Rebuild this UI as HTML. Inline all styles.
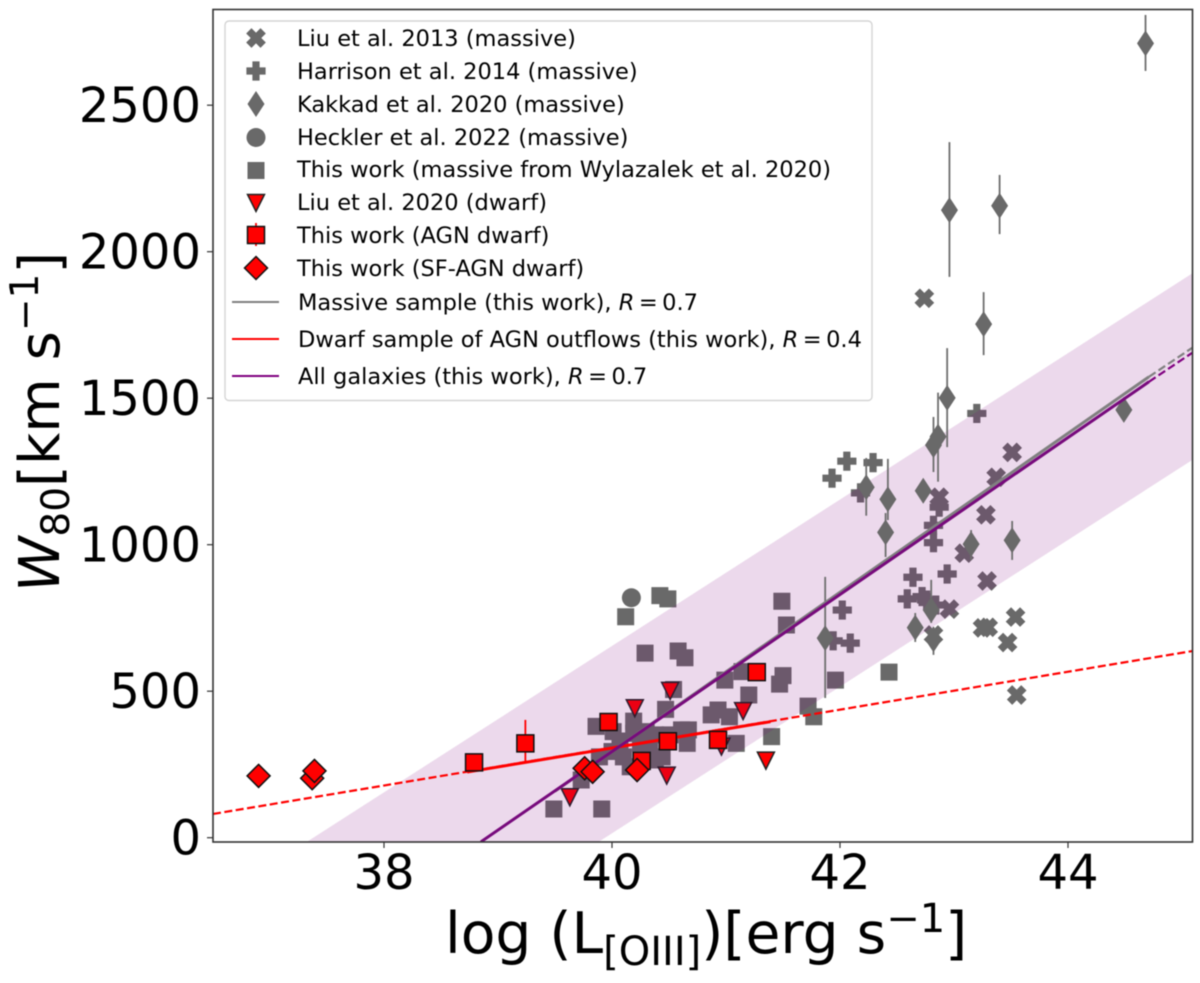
<!DOCTYPE html>
<html>
<head>
<meta charset="utf-8">
<title>W80 versus OIII luminosity</title>
<style>
html,body{margin:0;padding:0;background:#fff;}
#chart{display:block;width:1200px;height:983px;filter:blur(0.45px);font-family:"DejaVu Sans",sans-serif;}
.tick-label{font-size:48px;fill:#000;}
.legend-label{font-size:22.5px;fill:#000;}
.x-title{font-size:56.7px;fill:#000;}
.y-title{font-size:56px;fill:#000;}
</style>
</head>
<body>
<svg id="chart" xmlns="http://www.w3.org/2000/svg" width="1200" height="983" viewBox="0 0 1200 983">
  <defs><clipPath id="plot-clip"><rect x="213" y="9.5" width="979.5" height="832.5"/></clipPath></defs>
  <g id="marks-under" clip-path="url(#plot-clip)"></g>
  <g id="band-layer" clip-path="url(#plot-clip)"></g>
  <g id="kakkad-layer"></g>
  <g id="fit-layer" clip-path="url(#plot-clip)"></g>
  <g id="marks-over"></g>
  <rect x="213" y="9.5" width="979.5" height="832.5" fill="none" stroke="#333" stroke-width="1.6"/>
  <g id="axis-layer"></g>

  <text class="x-title" x="445" y="953">log (L<tspan font-size="40" dy="12">[OIII]</tspan><tspan dy="-12">)[erg s</tspan><tspan font-size="40" dy="-21">−1</tspan><tspan dy="21">]</tspan></text>
  <text class="y-title" transform="translate(59,592) rotate(-90)" x="0" y="0"><tspan font-style="italic">W</tspan><tspan font-size="39" dy="10">80</tspan><tspan dy="-10">[km s</tspan><tspan font-size="39" dy="-21">−1</tspan><tspan dy="21">]</tspan></text>

  <g id="legend">
    <rect x="225" y="21" width="647" height="379.5" rx="4" ry="4" fill="#fff" fill-opacity="0.85" stroke="#d4d4d4" stroke-width="1.4"/>
    <g id="legend-markers"></g>
    <line x1="232" x2="279" y1="302" y2="302" stroke="#808080" stroke-width="2"/>
    <line x1="232" x2="279" y1="339" y2="339" stroke="#ff0000" stroke-width="2"/>
    <line x1="232" x2="279" y1="376" y2="376" stroke="#800080" stroke-width="2"/>
    <text class="legend-label" x="297" y="46">Liu et al. 2013 (massive)</text>
    <text class="legend-label" x="297" y="79">Harrison et al. 2014 (massive)</text>
    <text class="legend-label" x="297" y="112">Kakkad et al. 2020 (massive)</text>
    <text class="legend-label" x="297" y="145">Heckler et al. 2022 (massive)</text>
    <text class="legend-label" x="297" y="177">This work (massive from Wylazalek et al. 2020)</text>
    <text class="legend-label" x="297" y="210">Liu et al. 2020 (dwarf)</text>
    <text class="legend-label" x="297" y="243">This work (AGN dwarf)</text>
    <text class="legend-label" x="297" y="276">This work (SF-AGN dwarf)</text>
    <text class="legend-label" x="298" y="310">Massive sample (this work), <tspan font-style="italic">R</tspan>&#8201;=&#8201;0.7</text>
    <text class="legend-label" x="298" y="347">Dwarf sample of AGN outflows (this work), <tspan font-style="italic">R</tspan>&#8201;=&#8201;0.4</text>
    <text class="legend-label" x="298" y="384">All galaxies (this work), <tspan font-style="italic">R</tspan>&#8201;=&#8201;0.7</text>
  </g>
</svg>
<script>
// Tick labels
const xTicks = [38, 40, 42, 44];
const yTicks = [0, 500, 1000, 1500, 2000, 2500];

// Liu et al. 2013 (massive)
const liu13X = [42.74,43.51,43.37,42.87,43.28,43.09,43.29,42.96,43.54,43.30,43.25,43.47,43.55,42.82];
const liu13Y = [1841,1315,1230,1162,1102,971,876,780,753,718,716,666,487,692];

// Harrison et al. 2014 (massive)
const harrisonX = [43.20,42.06,41.93,42.29,42.18,42.87,42.82,42.82,42.64,42.94,42.59,42.72,42.76,42.84,42.02,41.94,42.09];
const harrisonY = [1448,1285,1227,1280,1177,1128,1066,1007,889,900,815,823,811,794,777,672,664];

// Kakkad et al. 2020 (massive) with error ranges
const kakkadX = [44.68,42.96,43.40,43.26,42.94,44.49,42.86,42.82,42.23,42.42,42.40,42.73,43.15,43.51,41.87,42.66,42.80,42.82];
const kakkadY = [2711,2142,2157,1753,1501,1460,1369,1340,1196,1155,1042,1184,1002,1015,681,717,777,677];
const kakkadHi = [2808,2374,2262,1862,1671,1460,1519,1436,1296,1293,1108,1184,1050,1081,890,767,880,719];
const kakkadLo = [2617,1914,2060,1647,1333,1460,1215,1248,1099,1084,958,1184,948,948,477,668,733,624];

// Heckler et al. 2022 (massive)
const hecklerX = [40.17];
const hecklerY = [819];

// This work (massive from Wylazalek et al. 2020)
const wylazalekX = [40.12,40.42,40.49,40.29,40.58,40.64,41.49,41.53,41.50,41.47,41.96,41.14,40.99,41.20,40.47,40.54,40.19,39.86,40.01,40.19,40.30,40.87,40.93,41.03,40.61,40.67,40.51,40.66,41.09,41.40,41.72,41.77,40.44,40.38,40.16,40.10,40.00,39.89,40.25,40.33,39.73,39.49,39.91,42.43,40.07,40.38];
const wylazalekY = [754,826,815,630,637,614,807,726,553,524,538,567,538,487,438,506,398,380,362,356,362,419,436,413,368,368,351,322,322,345,449,413,276,265,242,276,294,276,322,311,197,98,98,565,330,351];

// Liu et al. 2020 (dwarf)
const liu20X = [40.51,40.20,41.15,41.35,40.48,39.63,40.96];
const liu20Y = [501,442,432,263,212,138,311];

// This work (AGN dwarf) with error ranges
const agnDwarfX = [38.79,39.24,39.97,41.27,40.49,40.93,40.26];
const agnDwarfY = [257,322,395,565,329,334,262];
const agnDwarfHi = [257,402,395,565,329,334,262];
const agnDwarfLo = [257,259,395,565,329,334,262];

// This work (SF-AGN dwarf)
const sfDwarfX = [36.90,37.37,37.39,39.76,39.83,40.22];
const sfDwarfY = [211,203,228,237,225,231];

// Fit lines: solid range and dashed extrapolation
const massiveFitX = [39.5,44.71];
const massiveFitY = [159,1573];
const massiveDashX = [44.71,45.09];
const massiveDashY = [1573,1672];
const dwarfFitX = [38.73,41.39];
const dwarfFitY = [224,396];
const dwarfDashX = [36.5,45.09];
const dwarfDashY = [81,637];
const allFitX = [38.85,44.71];
const allFitY = [-14,1556];
const allDashX = [44.71,45.09];
const allDashY = [1556,1655];

// Scatter band edges
const bandUpperX = [37.32,45.09];
const bandUpperY = [-15,1926];
const bandLowerX = [39.88,45.09];
const bandLowerY = [-15,1289];

const NS = 'http://www.w3.org/2000/svg';
const X0 = 384, XPER = 114, Y0 = 837.7, YPER = 0.293;
function sx(v) { return X0 + (v - 38) * XPER; }
function sy(v) { return Y0 - v * YPER; }

function make(tag, parent, name, attrs) {
  const el = document.createElementNS(NS, tag);
  for (const k in attrs) el.setAttribute(k, attrs[k]);
  
  
  parent.appendChild(el);
  return el;
}

// Marker outlines relative to the marker centre (unit shapes)
const SHAPES = {
  x: [[-1,-2],[0,-1],[1,-2],[2,-1],[1,0],[2,1],[1,2],[0,1],[-1,2],[-2,1],[-1,0],[-2,-1]].map(p => [p[0]*4.5, p[1]*4.5]),
  plus: [[-1,-3],[1,-3],[1,-1],[3,-1],[3,1],[1,1],[1,3],[-1,3],[-1,1],[-3,1],[-3,-1],[-1,-1]].map(p => [p[0]*3, p[1]*3]),
  thin: [[0,-13],[8.5,0],[0,13],[-8.5,0]],
  square: [[-8.5,-8.5],[8.5,-8.5],[8.5,8.5],[-8.5,8.5]],
  tri: [[-8.5,-8.5],[8.5,-8.5],[0,8.5]],
  bigSquare: [[-8.5,-8.5],[8.5,-8.5],[8.5,8.5],[-8.5,8.5]],
  bigDiamond: [[0,-11.5],[11.5,0],[0,11.5],[-11.5,0]]
};

function marker(parent, name, shape, px, py, fill, edge, edgeWidth) {
  const pts = SHAPES[shape].map(p => (px + p[0]).toFixed(2) + ',' + (py + p[1]).toFixed(2)).join(' ');
  const attrs = { points: pts, fill: fill };
  if (edge) { attrs.stroke = edge; attrs['stroke-width'] = edgeWidth || 1.5; attrs['stroke-linejoin'] = 'miter'; }
  return make('polygon', parent, name, attrs);
}

function series(parent, name, shape, xs, ys, fill, edge, edgeWidth) {
  xs.forEach((x, i) => marker(parent, name + '-' + (i + 1), shape, sx(x), sy(ys[i]), fill, edge, edgeWidth));
}

function errorBars(parent, name, xs, hi, lo, color) {
  xs.forEach((x, i) => {
    if (hi[i] === lo[i]) return;
    make('line', parent, name + '-' + (i + 1), { x1: sx(x), x2: sx(x), y1: sy(hi[i]), y2: sy(lo[i]), stroke: color, 'stroke-width': 1.8 });
  });
}

function fitLine(parent, name, xs, ys, color, width, dash) {
  const attrs = { x1: sx(xs[0]), y1: sy(ys[0]), x2: sx(xs[1]), y2: sy(ys[1]), stroke: color, 'stroke-width': width };
  if (dash) attrs['stroke-dasharray'] = dash;
  return make('line', parent, name, attrs);
}

const GREY = '#696969';
const under = document.getElementById('marks-under');
series(under, 'liu-2013-marker', 'x', liu13X, liu13Y, GREY, GREY, 1.2);
series(under, 'harrison-2014-marker', 'plus', harrisonX, harrisonY, GREY, GREY, 1.2);
series(under, 'wylazalek-2020-marker', 'square', wylazalekX, wylazalekY, GREY);
hecklerX.forEach((x, i) => make('circle', under, 'heckler-2022-marker', { cx: sx(x), cy: sy(hecklerY[i]), r: 9.5, fill: GREY }));
series(under, 'liu-2020-marker', 'tri', liu20X, liu20Y, '#ff0000', '#222');

// Band overlays the markers drawn above
const bandPts = [
  [sx(bandUpperX[0]), sy(bandUpperY[0])], [sx(bandUpperX[1]), sy(bandUpperY[1])],
  [sx(bandLowerX[1]), sy(bandLowerY[1])], [sx(bandLowerX[0]), sy(bandLowerY[0])]
].map(p => p.join(',')).join(' ');
make('polygon', document.getElementById('band-layer'), 'scatter-band', { points: bandPts, fill: '#800080', 'fill-opacity': 0.15 });

const kakkad = document.getElementById('kakkad-layer');
errorBars(kakkad, 'kakkad-2020-error-bar', kakkadX, kakkadHi, kakkadLo, '#6e6e6e');
series(kakkad, 'kakkad-2020-marker', 'thin', kakkadX, kakkadY, '#696969');

const fits = document.getElementById('fit-layer');
fitLine(fits, 'massive-fit-solid', massiveFitX, massiveFitY, '#808080', 3);
fitLine(fits, 'massive-fit-dashed', massiveDashX, massiveDashY, '#808080', 2.2, '8 3.5');
fitLine(fits, 'dwarf-fit-dashed', dwarfDashX, dwarfDashY, '#ff0000', 2.2, '8 3.5');
fitLine(fits, 'dwarf-fit-solid', dwarfFitX, dwarfFitY, '#ff0000', 3);
fitLine(fits, 'all-galaxies-fit-solid', allFitX, allFitY, '#770a7c', 3);
fitLine(fits, 'all-galaxies-fit-dashed', allDashX, allDashY, '#800080', 2.2, '8 3.5');

const over = document.getElementById('marks-over');
errorBars(over, 'agn-dwarf-error-bar', agnDwarfX, agnDwarfHi, agnDwarfLo, '#ff0000');
series(over, 'agn-dwarf-marker', 'bigSquare', agnDwarfX, agnDwarfY, '#ff0000', '#111');
series(over, 'sf-agn-dwarf-marker', 'bigDiamond', sfDwarfX, sfDwarfY, '#ff0000', '#111');

// Axes
const axes = document.getElementById('axis-layer');
xTicks.forEach(t => {
  make('line', axes, 'x-tick-' + t, { x1: sx(t), x2: sx(t), y1: 842, y2: 848, stroke: '#333', 'stroke-width': 1.2 });
  const label = make('text', axes, 'x-tick-label-' + t, { x: sx(t), y: 889, 'text-anchor': 'middle', class: 'tick-label' });
  label.textContent = t;
});
yTicks.forEach(t => {
  make('line', axes, 'y-tick-' + t, { x1: 207, x2: 213, y1: sy(t), y2: sy(t), stroke: '#333', 'stroke-width': 1.2 });
  const label = make('text', axes, 'y-tick-label-' + t, { x: 201, y: sy(t) + 17, 'text-anchor': 'end', class: 'tick-label' });
  label.textContent = t;
});

// Legend markers
const lg = document.getElementById('legend-markers');
marker(lg, 'legend-marker-liu-2013', 'x', 256, 38, GREY, GREY, 1.2);
marker(lg, 'legend-marker-harrison-2014', 'plus', 256, 71, GREY, GREY, 1.2);
marker(lg, 'legend-marker-kakkad-2020', 'thin', 256, 104, GREY);
make('circle', lg, 'legend-marker-heckler-2022', { cx: 256, cy: 137.5, r: 9.5, fill: GREY });
marker(lg, 'legend-marker-wylazalek-2020', 'square', 256, 170.5, GREY);
marker(lg, 'legend-marker-liu-2020', 'tri', 256, 203, '#ff0000', '#222');
make('line', lg, 'legend-error-agn-dwarf', { x1: 256, x2: 256, y1: 223, y2: 246, stroke: '#ff0000', 'stroke-width': 1.8 });
marker(lg, 'legend-marker-agn-dwarf', 'bigSquare', 256, 235, '#ff0000', '#111');
marker(lg, 'legend-marker-sf-agn-dwarf', 'bigDiamond', 256, 268, '#ff0000', '#111');
</script>
</body>
</html>
